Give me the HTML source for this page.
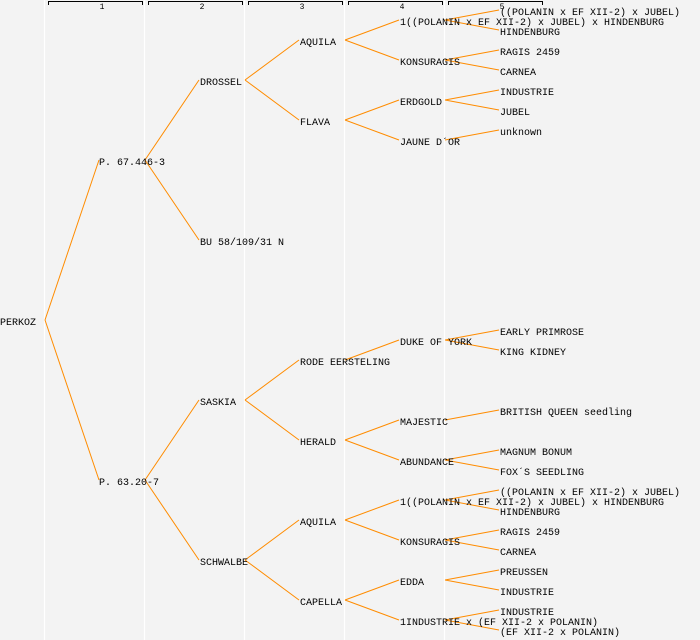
<!DOCTYPE html>
<html><head><meta charset="utf-8"><style>
html,body{margin:0;padding:0;background:#f3f3f3;}
svg{display:block;}
text{font-family:"Liberation Mono",monospace;font-size:10px;fill:#000;}
.h{font-size:8px;text-anchor:middle;}
</style></head><body>
<svg width="700" height="640" viewBox="0 0 700 640" xmlns="http://www.w3.org/2000/svg">
<rect width="700" height="640" fill="#f3f3f3"/>
<g stroke="#fff" stroke-width="1.2">
<line x1="44.5" y1="0" x2="44.5" y2="640"/><line x1="144.5" y1="0" x2="144.5" y2="640"/>
<line x1="244.5" y1="0" x2="244.5" y2="640"/><line x1="344.5" y1="0" x2="344.5" y2="640"/>
<line x1="444.5" y1="0" x2="444.5" y2="640"/>
</g>
<g stroke="#000" stroke-width="1" fill="none">
<path d="M48.5 5V1.5H142.5V5"/><path d="M148.5 5V1.5H242.5V5"/><path d="M248.5 5V1.5H342.5V5"/><path d="M348.5 5V1.5H442.5V5"/><path d="M448.5 5V1.5H542.5V5"/>
</g>
<text class="h" x="102" y="9">1</text><text class="h" x="202" y="9">2</text><text class="h" x="302" y="9">3</text><text class="h" x="402" y="9">4</text><text class="h" x="502" y="9">5</text>
<g stroke="#ff8c00" stroke-width="1" fill="none">
<path d="M45 320L99 160M45 320L99 480"/>
<path d="M145 160L199 80M145 160L199 240M145 480L199 400M145 480L199 560"/>
<path d="M245 80L299 40M245 80L299 120M245 400L299 360M245 400L299 440M245 560L299 520M245 560L299 600"/>
<path d="M345 40L399 20M345 40L399 60M345 120L399 100M345 120L399 140M345 360L399 340M345 440L399 420M345 440L399 460M345 520L399 500M345 520L399 540M345 600L399 580M345 600L399 620"/>
<path d="M445 20L499 10M445 20L499 30M445 60L499 50M445 60L499 70M445 100L499 90M445 100L499 110M445 140L499 130M445 340L499 330M445 340L499 350M445 420L499 410M445 460L499 450M445 460L499 470M445 500L499 490M445 500L499 510M445 540L499 530M445 540L499 550M445 580L499 570M445 580L499 590M445 620L499 610M445 620L499 630"/>
</g>
<text x="0" y="325">PERKOZ</text>
<text x="99" y="165">P. 67.446-3</text>
<text x="99" y="485">P. 63.20-7</text>
<text x="200" y="85">DROSSEL</text>
<text x="200" y="245">BU 58/109/31 N</text>
<text x="200" y="405">SASKIA</text>
<text x="200" y="565">SCHWALBE</text>
<text x="300" y="45">AQUILA</text>
<text x="300" y="125">FLAVA</text>
<text x="300" y="365">RODE EERSTELING</text>
<text x="300" y="445">HERALD</text>
<text x="300" y="525">AQUILA</text>
<text x="300" y="605">CAPELLA</text>
<text x="400" y="25">1((POLANIN x EF XII-2) x JUBEL) x HINDENBURG</text>
<text x="400" y="65">KONSURAGIS</text>
<text x="400" y="105">ERDGOLD</text>
<text x="400" y="145">JAUNE D´OR</text>
<text x="400" y="345">DUKE OF YORK</text>
<text x="400" y="425">MAJESTIC</text>
<text x="400" y="465">ABUNDANCE</text>
<text x="400" y="505">1((POLANIN x EF XII-2) x JUBEL) x HINDENBURG</text>
<text x="400" y="545">KONSURAGIS</text>
<text x="400" y="585">EDDA</text>
<text x="400" y="625">1INDUSTRIE x (EF XII-2 x POLANIN)</text>
<text x="500" y="15">((POLANIN x EF XII-2) x JUBEL)</text>
<text x="500" y="35">HINDENBURG</text>
<text x="500" y="55">RAGIS 2459</text>
<text x="500" y="75">CARNEA</text>
<text x="500" y="95">INDUSTRIE</text>
<text x="500" y="115">JUBEL</text>
<text x="500" y="135">unknown</text>
<text x="500" y="335">EARLY PRIMROSE</text>
<text x="500" y="355">KING KIDNEY</text>
<text x="500" y="415">BRITISH QUEEN seedling</text>
<text x="500" y="455">MAGNUM BONUM</text>
<text x="500" y="475">FOX´S SEEDLING</text>
<text x="500" y="495">((POLANIN x EF XII-2) x JUBEL)</text>
<text x="500" y="515">HINDENBURG</text>
<text x="500" y="535">RAGIS 2459</text>
<text x="500" y="555">CARNEA</text>
<text x="500" y="575">PREUSSEN</text>
<text x="500" y="595">INDUSTRIE</text>
<text x="500" y="615">INDUSTRIE</text>
<text x="500" y="635">(EF XII-2 x POLANIN)</text>
</svg>
</body></html>
